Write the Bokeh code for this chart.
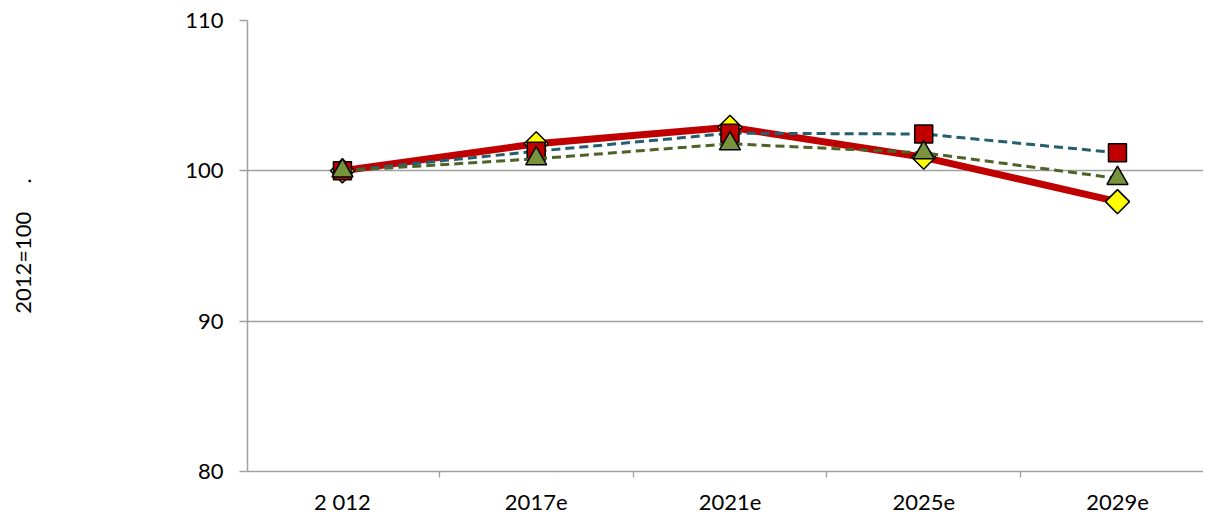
import math
from bokeh.plotting import figure
from bokeh.models import FixedTicker, Range1d
from bokeh.embed import file_html
from bokeh.resources import INLINE

categories = ["2 012", "2017e", "2021e", "2025e", "2029e"]
series_red = [100.0, 101.8, 102.9, 100.9, 97.95]
series_blue = [100.0, 101.3, 102.5, 102.45, 101.2]
series_olive = [100.0, 100.8, 101.8, 101.2, 99.5]

FONT = "Lato"
GRAY = "#A0A0A0"

xs = list(range(len(categories)))

p = figure(width=1203, height=517, output_backend="svg", toolbar_location=None,
           x_range=Range1d(-0.49, 4.444), y_range=Range1d(80, 110),
           min_border_left=247, min_border_right=0, min_border_top=20, min_border_bottom=46)
p.outline_line_color = None
p.xgrid.grid_line_color = None
p.ygrid.grid_line_color = GRAY
p.ygrid.grid_line_width = 1.3

p.yaxis.ticker = FixedTicker(ticks=[80, 90, 100, 110])
p.yaxis.axis_line_color = GRAY
p.yaxis.axis_line_width = 1.5
p.yaxis.major_tick_line_color = GRAY
p.yaxis.major_tick_line_width = 1.3
p.yaxis.major_tick_out = 8
p.yaxis.major_tick_in = 0
p.yaxis.minor_tick_line_color = None
p.yaxis.major_label_text_font = FONT
p.yaxis.major_label_text_font_size = "22px"
p.yaxis.major_label_text_color = "#000000"
p.yaxis.major_label_standoff = 16
p.yaxis.axis_label = "2012=100\u00a0\u00a0\u00a0\u00a0\u00a0."
p.yaxis.axis_label_text_font = FONT
p.yaxis.axis_label_text_font_size = "22px"
p.yaxis.axis_label_text_font_style = "normal"
p.yaxis.axis_label_text_color = "#000000"
p.yaxis.axis_label_standoff = 146

p.xaxis.ticker = FixedTicker(ticks=xs, minor_ticks=[0.5, 1.5, 2.5, 3.5, 4.5])
p.xaxis.major_label_overrides = {i: c for i, c in enumerate(categories)}
p.xaxis.axis_line_color = GRAY
p.xaxis.axis_line_width = 1.3
p.xaxis.major_tick_line_color = None
p.xaxis.minor_tick_line_color = GRAY
p.xaxis.minor_tick_line_width = 1.3
p.xaxis.minor_tick_out = 6
p.xaxis.minor_tick_in = 0
p.xaxis.major_label_text_font = FONT
p.xaxis.major_label_text_font_size = "22px"
p.xaxis.major_label_text_color = "#000000"
p.xaxis.major_label_standoff = 10

# Series 1: red thick line with yellow diamonds
p.line(xs, series_red, line_color="#C00000", line_width=7)
p.scatter(xs, series_red, marker="square", angle=math.pi / 4, size=17,
          fill_color="#FFFF00", line_color="#000000", line_width=1.5)

# Series 2: teal dashed line with red squares
p.line(xs, series_blue, line_color="#255E6E", line_width=3, line_dash="9 5")
p.scatter(xs, series_blue, marker="square", size=18, fill_color="#C00000",
          line_color="#000000", line_width=1.5)

# Series 3: olive dashed line with green triangles
p.line(xs, series_olive, line_color="#4F6228", line_width=3, line_dash="9 5")
p.scatter(xs, series_olive, marker="triangle", size=21, fill_color="#77933C",
          line_color="#000000", line_width=1.5)

open("out.html", "w").write(file_html(p, INLINE))
